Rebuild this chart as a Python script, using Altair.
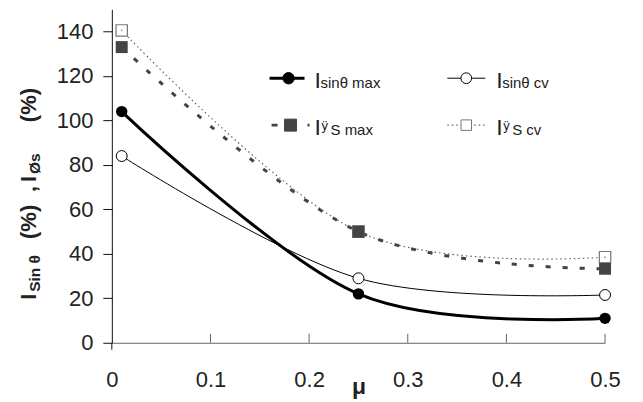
import altair as alt
import pandas as pd

# ---------------- data ----------------
mu = [0.01, 0.25, 0.5]
sin_max = [104, 22, 11]
sin_cv = [84, 29, 21.5]
ys_max = [133, 50, 33.3]
ys_cv = [140.5, 50, 38.5]
x_ticks = [0, 0.1, 0.2, 0.3, 0.4, 0.5]
y_ticks = [0, 20, 40, 60, 80, 100, 120, 140]

W, H = 494, 334
FONT = "Liberation Sans"


def frame(vals):
    return pd.DataFrame({"mu": mu, "v": vals})


xs = alt.Scale(domain=[0, 0.5], nice=False, zero=False)
ysc = alt.Scale(domain=[0, 150], nice=False)

x_axis = alt.Axis(values=x_ticks, format="~g", ticks=False, grid=False,
                  labelFontSize=22, labelFont=FONT, labelColor="#222",
                  labelPadding=27, labelFlush=False,
                  domainColor="#666", domainWidth=1,
                  titleFont=FONT, titleFontSize=23, titleFontWeight="bold",
                  titleColor="#222", titleY=51, titleBaseline="alphabetic")
y_axis = alt.Axis(values=y_ticks, tickSize=9, tickColor="#111", grid=False,
                  labelFontSize=22, labelFont=FONT, labelColor="#222",
                  labelPadding=10, domainColor="#111", domainWidth=1)

XA = alt.X("mu:Q", scale=xs, title="μ", axis=x_axis)
YA = alt.Y("v:Q", scale=ysc, title="", axis=y_axis)

one = pd.DataFrame({"a": [0]})

layers = []

# lines
layers.append(alt.Chart(frame(sin_cv)).mark_line(
    interpolate="cardinal", color="black", strokeWidth=1).encode(x=XA, y=YA))
layers.append(alt.Chart(frame(ys_cv)).mark_line(
    interpolate="cardinal", color="#666", strokeWidth=1.2, strokeDash=[1.5, 3]).encode(x=XA, y=YA))
layers.append(alt.Chart(frame(ys_max)).mark_line(
    interpolate="cardinal", color="#444", strokeWidth=3, strokeDash=[5, 12]).encode(x=XA, y=YA))
layers.append(alt.Chart(frame(sin_max)).mark_line(
    interpolate="cardinal", color="black", strokeWidth=3).encode(x=XA, y=YA))

# points
layers.append(alt.Chart(frame(sin_cv)).mark_point(
    shape="circle", filled=True, fill="white", stroke="black", strokeWidth=1,
    size=120, opacity=1).encode(x=XA, y=YA))
layers.append(alt.Chart(frame(sin_max)).mark_point(
    shape="circle", filled=True, color="black", size=130, opacity=1).encode(x=XA, y=YA))
layers.append(alt.Chart(frame(ys_cv)).mark_point(
    shape="square", filled=True, fill="white", stroke="#777", strokeWidth=1.2,
    size=130, opacity=1).encode(x=XA, y=YA))
layers.append(alt.Chart(frame(ys_cv)).mark_point(
    shape="square", filled=True, color="#888", size=2, opacity=1).encode(x=XA, y=YA))
layers.append(alt.Chart(frame(ys_max)).mark_point(
    shape="square", filled=True, color="#444", size=144, opacity=1).encode(x=XA, y=YA))

# inward x ticks and the small extension of the y axis under the x axis
tick_df = pd.DataFrame({"mu": x_ticks[1:]})
layers.append(alt.Chart(tick_df).mark_rule(color="#666", strokeWidth=1).encode(
    x=XA, y=alt.value(H), y2=alt.value(H - 9)))
layers.append(alt.Chart(one).mark_rule(color="#111", strokeWidth=1).encode(
    x=alt.value(0), y=alt.value(H), y2=alt.value(H + 7)))


def txt(s, x, y, size, weight="normal", angle=0, color="#222"):
    kw = dict(text=s, font=FONT, fontSize=size, fontWeight=weight,
              align="left", baseline="alphabetic", color=color)
    if angle:
        kw["angle"] = angle
    return alt.Chart(one).mark_text(**kw).encode(x=alt.value(x), y=alt.value(y))


def seg(x1, x2, y, color, width, dash=None):
    kw = dict(color=color, strokeWidth=width)
    if dash:
        kw["strokeDash"] = dash
    return alt.Chart(one).mark_rule(**kw).encode(
        x=alt.value(x1), x2=alt.value(x2), y=alt.value(y))


def mark(x, y, shape, size, fill, stroke, sw=1):
    return alt.Chart(one).mark_point(
        shape=shape, size=size, filled=True, fill=fill, stroke=stroke,
        strokeWidth=sw, opacity=1).encode(x=alt.value(x), y=alt.value(y))


# legend (plot-relative pixels)
r1, r2 = 69, 116
c1, c2 = 158, 336
layers += [
    seg(c1, c1 + 35, r1, "black", 3),
    mark(c1 + 19, r1, "circle", 130, "black", "black"),
    txt("I", c1 + 45, r1 + 10, 23),
    txt("sinθ max", c1 + 51, r1 + 10, 15),
    seg(c2, c2 + 38, r1, "black", 1),
    mark(c2 + 19, r1, "circle", 115, "white", "black"),
    txt("I", c2 + 49, r1 + 10, 23),
    txt("sinθ cv", c2 + 55, r1 + 10, 15),
    seg(c1 + 2, c1 + 40, r2, "#444", 3, [6, 12]),
    mark(c1 + 21, r2, "square", 144, "#444", "#444"),
    txt("I", c1 + 45, r2 + 10, 23),
    txt("ÿ", c1 + 52, r2 + 5, 13),
    txt("S max", c1 + 61, r2 + 10, 15),
    seg(c2, c2 + 38, r2, "#666", 1.2, [1.5, 3]),
    mark(c2 + 19, r2, "square", 110, "white", "#777"),
    txt("I", c2 + 49, r2 + 10, 23),
    txt("ÿ", c2 + 56, r2 + 5, 13),
    txt("S cv", c2 + 65, r2 + 10, 15),
]

# rotated y-axis title with subscripts
bx, sx = -76, -72
layers += [
    txt("I", bx, 291, 22, "bold", 270),
    txt("Sin θ", sx, 283, 15.5, "bold", 270),
    txt("(%)", bx, 230, 22, "bold", 270),
    txt(",", bx, 183, 22, "bold", 270),
    txt("I", bx, 173, 22, "bold", 270),
    txt("Øs", sx, 165, 15.5, "bold", 270),
    txt("(%)", bx, 113, 22, "bold", 270),
]

chart = alt.layer(*layers).properties(
    width=W, height=H,
    autosize=alt.AutoSizeParams(type="none"),
    padding={"left": 104, "top": 1, "right": 30, "bottom": 58},
    background="white",
).configure_view(stroke=None)

chart.save("out.html", embed_options={"renderer": "svg", "actions": False})
